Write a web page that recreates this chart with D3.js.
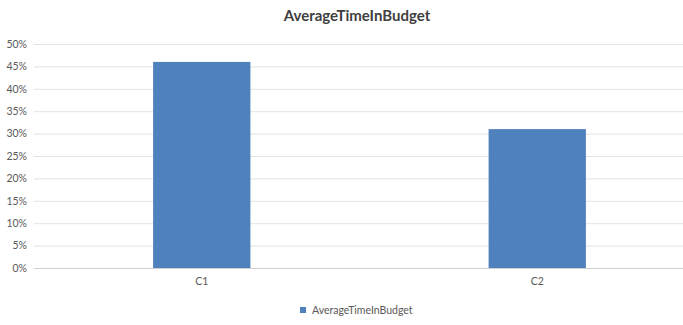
<!DOCTYPE html>
<html>
<head>
<meta charset="utf-8">
<script src="https://cdn.jsdelivr.net/npm/d3@7"></script>
<style>
  body { margin: 0; background: #fff; }
  svg { display: block; font-family: Lato, 'Open Sans', sans-serif; }
</style>
</head>
<body>
<svg width="683" height="325"></svg>
<script>
const categories = ['C1', 'C2']
const values = [0.46, 0.31]
const yTicks = [0, 0.05, 0.1, 0.15, 0.2, 0.25, 0.3, 0.35, 0.4, 0.45, 0.5]
const seriesName = 'AverageTimeInBudget'

const width = 683,
  height = 325,
  margin = { top: 44, right: -22, bottom: 57, left: 34 }

const svg = d3.select('svg')

const x = d3.scaleBand()
  .domain(categories)
  .range([margin.left, width - margin.right])
  .paddingInner(0.71)
  .paddingOuter(0.355)

const y = d3.scaleLinear()
  .domain([0, 0.5])
  .range([height - margin.bottom, margin.top])

// title
svg.append('text')
  .attr('x', 357)
  .attr('y', 21)
  .attr('text-anchor', 'middle')
  .attr('font-size', 15)
  .attr('font-weight', 'bold')
  .attr('fill', '#404040')
  .text(seriesName)

// gridlines + y labels
const yAxis = svg.append('g')
  .attr('transform', `translate(${margin.left},0)`)
  .call(d3.axisLeft(y)
    .tickValues(yTicks)
    .tickFormat(d3.format('.0%'))
    .tickSize(-(width - margin.left))
    .tickPadding(7))

yAxis.select('.domain').remove()
yAxis.selectAll('.tick line')
  .attr('stroke', d => d === 0 ? '#d0d0d0' : '#e3e3e3')
yAxis.selectAll('.tick text')
  .attr('fill', '#595959')
  .attr('font-size', 10.5)
  .attr('font-family', 'Lato, sans-serif')

// bars
svg.append('g')
  .selectAll('rect')
  .data(values)
  .enter().append('rect')
  .attr('x', (d, i) => x(categories[i]))
  .attr('y', d => y(d))
  .attr('width', x.bandwidth())
  .attr('height', d => y(0) - y(d))
  .attr('fill', '#4f81bd')

// x labels
const xAxis = svg.append('g')
  .attr('transform', `translate(0,${y(0)})`)
  .call(d3.axisBottom(x).tickSize(0).tickPadding(10))

xAxis.select('.domain').remove()
xAxis.selectAll('.tick text')
  .attr('fill', '#595959')
  .attr('font-size', 10.5)
  .attr('font-family', 'Lato, sans-serif')

// legend
const legend = svg.append('g')
  .attr('transform', 'translate(300,307)')

legend.append('rect')
  .attr('width', 6)
  .attr('height', 6)
  .attr('fill', '#4f81bd')

legend.append('text')
  .attr('x', 12)
  .attr('y', 7)
  .attr('font-size', 10.5)
  .attr('fill', '#595959')
  .text(seriesName)
</script>
</body>
</html>
